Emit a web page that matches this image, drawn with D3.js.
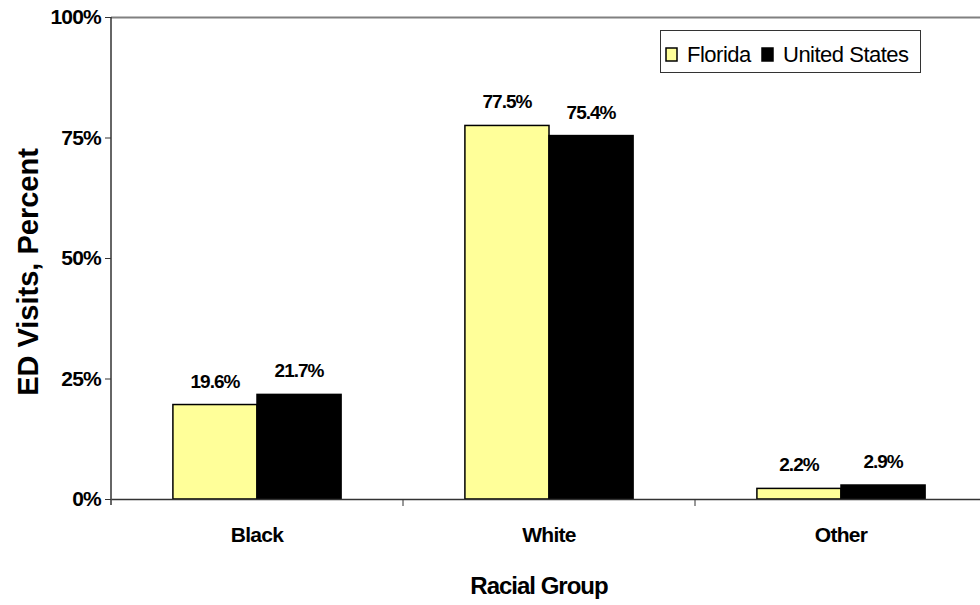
<!DOCTYPE html>
<html>
<head>
<meta charset="utf-8">
<script src="https://cdn.jsdelivr.net/npm/d3@7"></script>
<style>
  body { margin: 0; background: #fff; }
  svg { display: block; font-family: "Liberation Sans", Arial, sans-serif; }
</style>
</head>
<body>
<svg id="chart" width="980" height="605"></svg>
<script>
// Emergency department visits by racial group, Florida vs. United States
const categories = ["Black", "White", "Other"];
const seriesNames = ["Florida", "United States"];
const florida = [19.6, 77.5, 2.2];
const unitedStates = [21.7, 75.4, 2.9];
const yTicks = [0, 25, 50, 75, 100];
const seriesColors = ["#FFFF99", "#000000"];

const FONT = "'Liberation Sans', Arial, sans-serif";
const svg = d3.select("#chart");
const margin = { left: 111, top: 17, right: -7, bottom: 106 };
const W = 980, H = 605;
const plotW = W - margin.left - margin.right;
const plotH = H - margin.top - margin.bottom;

const x0 = d3.scaleBand().domain(categories).range([0, plotW]).paddingInner(0).paddingOuter(0);
const x1 = d3.scaleBand().domain(seriesNames).range([x0.bandwidth() * 0.212, x0.bandwidth() * 0.788]);
const y = d3.scaleLinear().domain([0, 100]).range([plotH, 0]);

const g = svg.append("g").attr("transform", `translate(${margin.left},${margin.top})`);

// top border of plot area
g.append("line")
  .attr("x1", 0).attr("x2", plotW).attr("y1", 0.5).attr("y2", 0.5)
  .attr("stroke", "#808080").attr("stroke-width", 2);

const rows = categories.map((c, i) => ({ cat: c, vals: [florida[i], unitedStates[i]] }));

const groups = g.selectAll(".grp").data(rows).join("g")
  .attr("transform", d => `translate(${x0(d.cat)},0)`);

groups.selectAll("rect").data(d => d.vals.map((v, k) => ({ v, k })))
  .join("rect")
  .attr("x", d => x1(seriesNames[d.k]))
  .attr("width", x1.bandwidth())
  .attr("y", d => y(d.v))
  .attr("height", d => plotH - y(d.v))
  .attr("fill", d => seriesColors[d.k])
  .attr("stroke", "#000").attr("stroke-width", 1.5);

groups.selectAll("text.val").data(d => d.vals.map((v, k) => ({ v, k })))
  .join("text").attr("class", "val")
  .attr("x", d => x1(seriesNames[d.k]) + x1.bandwidth() / 2)
  .attr("y", d => y(d.v) - 17)
  .attr("text-anchor", "middle")
  .attr("font-size", 19).attr("font-weight", "bold").attr("letter-spacing", -1)
  .text(d => d.v.toFixed(1) + "%");

// y axis
const yAxis = g.append("g")
  .call(d3.axisLeft(y).tickValues(yTicks).tickSize(6).tickFormat(d => d + "%"));
yAxis.select(".domain").attr("stroke", "#333").attr("stroke-width", 1.5).attr("d", `M0,0V${plotH + 6}`);
yAxis.selectAll(".tick line").attr("stroke", "#333");
yAxis.selectAll(".tick text")
  .attr("font-size", 21).attr("font-weight", "bold").attr("letter-spacing", -0.8)
  .attr("font-family", FONT).attr("fill", "#000").attr("x", -10);

// x axis
const xAxis = g.append("g").attr("transform", `translate(0,${plotH})`)
  .call(d3.axisBottom(x0).tickSize(0).tickPadding(28));
xAxis.select(".domain").attr("stroke", "#333").attr("stroke-width", 1.5);
xAxis.selectAll(".tick text")
  .attr("font-size", 21).attr("font-weight", "bold").attr("letter-spacing", -0.7)
  .attr("font-family", FONT).attr("fill", "#000");
// category separators
g.selectAll(".sep").data(categories.slice(1)).join("line")
  .attr("x1", d => x0(d)).attr("x2", d => x0(d))
  .attr("y1", plotH).attr("y2", plotH + 7)
  .attr("stroke", "#333");

// axis titles
svg.append("text")
  .attr("transform", "translate(38,272) rotate(-90)")
  .attr("text-anchor", "middle")
  .attr("font-size", 29).attr("font-weight", "bold")
  .text("ED Visits, Percent");

svg.append("text")
  .attr("x", 539).attr("y", 594)
  .attr("text-anchor", "middle")
  .attr("font-size", 24).attr("font-weight", "bold").attr("letter-spacing", -1)
  .text("Racial Group");

// legend
const legend = svg.append("g").attr("transform", "translate(660,30)");
legend.append("rect").attr("x", 0.5).attr("y", 0.5).attr("width", 260).attr("height", 42)
  .attr("fill", "#fff").attr("stroke", "#333");
const legX = [6, 102];
seriesNames.forEach((s, k) => {
  legend.append("rect").attr("x", legX[k]).attr("y", 18).attr("width", 11).attr("height", 13)
    .attr("fill", seriesColors[k]).attr("stroke", "#000").attr("stroke-width", 1.5);
  legend.append("text").attr("x", legX[k] + 21).attr("y", 32)
    .attr("font-size", 22).attr("letter-spacing", -0.5)
    .text(s);
});
</script>
</body>
</html>
